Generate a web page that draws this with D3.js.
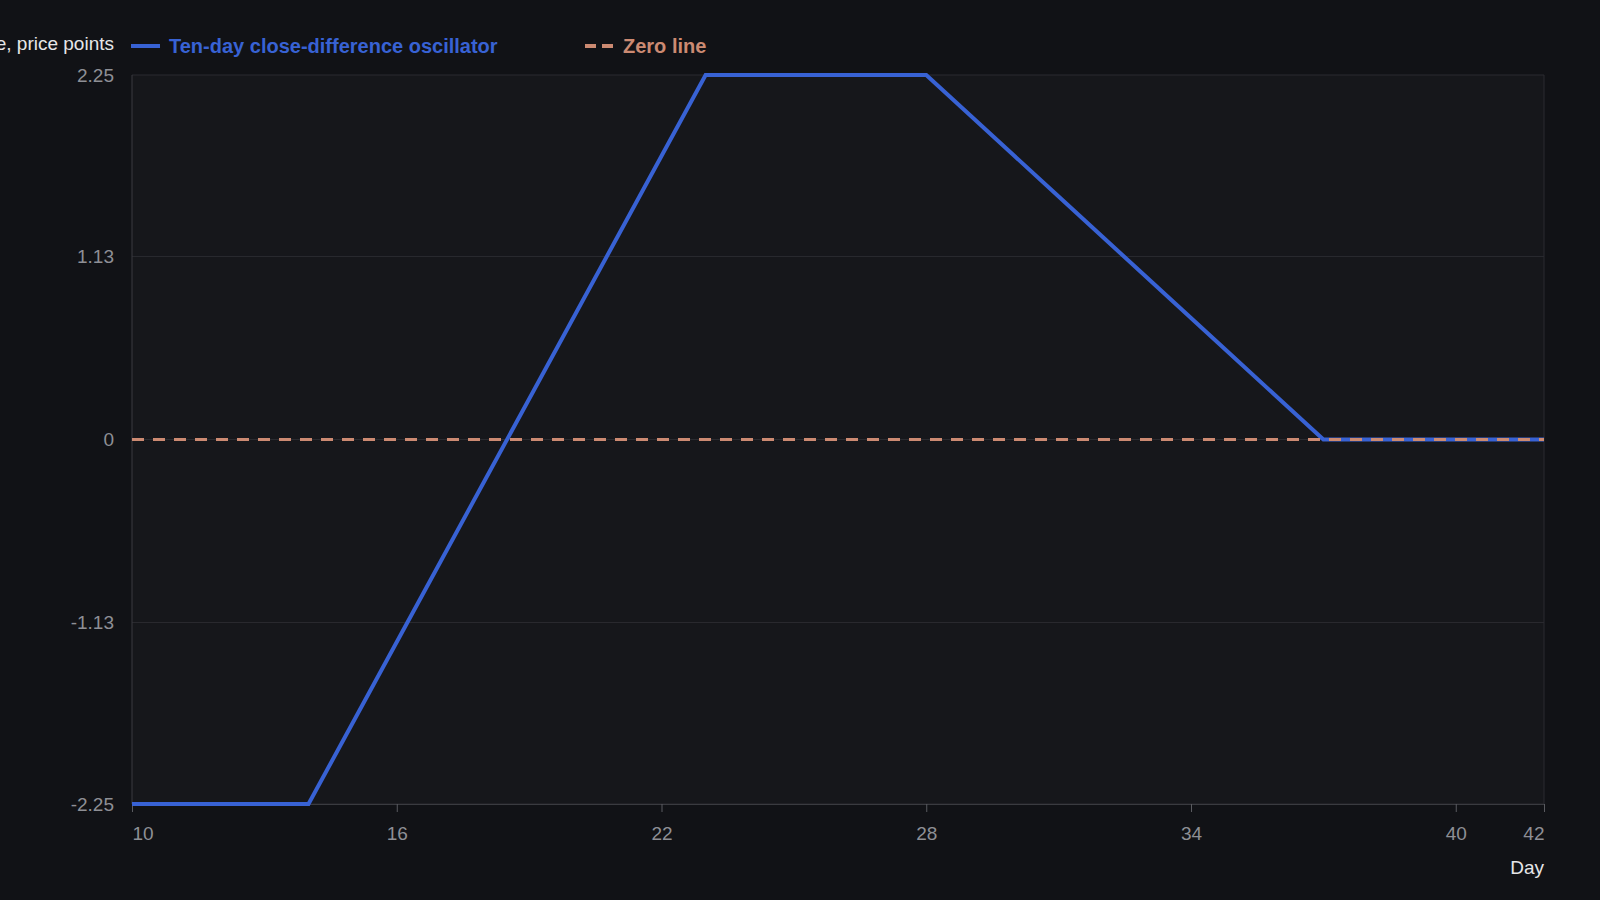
<!DOCTYPE html>
<html>
<head>
<meta charset="utf-8">
<script src="https://cdn.jsdelivr.net/npm/d3@7"></script>
<style>
  html, body { margin: 0; padding: 0; background: #111216; }
  svg { display: block; font-family: "Liberation Sans", Arial, sans-serif; }
</style>
</head>
<body>
<svg id="chart" width="1600" height="900"></svg>
<script>
// Data: one value per day
var days = [10, 11, 12, 13, 14, 15, 16, 17, 18, 19, 20, 21, 22, 23, 24, 25, 26,
            27, 28, 29, 30, 31, 32, 33, 34, 35, 36, 37, 38, 39, 40, 41, 42];
var oscillator = [-2.25, -2.25, -2.25, -2.25, -2.25, -1.75, -1.25, -0.75, -0.25, 0.25, 0.75, 1.25, 1.75, 2.25, 2.25, 2.25, 2.25,
                  2.25, 2.25, 2.0, 1.75, 1.5, 1.25, 1.0, 0.75, 0.5, 0.25, 0, 0, 0, 0, 0, 0];
var zeroLine = [0, 0];
var zeroDays = [10, 42];
var xTicks = [10, 16, 22, 28, 34, 40, 42];
var yTicks = [-2.25, -1.13, 0, 1.13, 2.25];
var seriesNames = ["Ten-day close-difference oscillator", "Zero line"];

var style = {
    left: 132,
    right: 1544,
    top: 75,
    bottom: 804,
    blue: "#3862d4",
    orange: "#cc8a72",
    grid: "#2a2b30",
    axis: "#3a3b40",
    tickText: "#8e8f95",
    plotBg: "#16171b"
};

var svg = d3.select("#chart");

svg.append("rect")
    .attr("width", 1600).attr("height", 900)
    .attr("fill", "#111216");

var x = d3.scaleLinear().domain([10, 42]).range([style.left, style.right]);
var y = d3.scaleLinear().domain([-2.25, 2.25]).range([style.bottom, style.top]);

// plot background
svg.append("rect")
    .attr("x", style.left).attr("y", style.top)
    .attr("width", style.right - style.left)
    .attr("height", style.bottom - style.top)
    .attr("fill", style.plotBg);

// horizontal grid
svg.append("g")
    .selectAll("line")
    .data(yTicks)
    .join("line")
    .attr("x1", style.left).attr("x2", style.right)
    .attr("y1", function(d) { return y(d); })
    .attr("y2", function(d) { return y(d); })
    .attr("stroke", style.grid)
    .attr("stroke-width", 1);

// frame sides
svg.append("line")
    .attr("x1", style.left).attr("x2", style.left)
    .attr("y1", style.top).attr("y2", style.bottom)
    .attr("stroke", style.axis);
svg.append("line")
    .attr("x1", style.right).attr("x2", style.right)
    .attr("y1", style.top).attr("y2", style.bottom)
    .attr("stroke", style.grid);

// y axis labels (plain hyphen for negatives)
var yAxis = svg.append("g")
    .attr("transform", "translate(" + style.left + ",0)")
    .call(d3.axisLeft(y).tickValues(yTicks).tickSize(0).tickPadding(18)
        .tickFormat(function(d) { return d === 0 ? "0" : d.toFixed(2); }));
yAxis.select(".domain").remove();
yAxis.selectAll("text")
    .attr("fill", style.tickText)
    .style("font-size", "19px");

// x axis
var xAxis = svg.append("g")
    .attr("transform", "translate(0," + style.bottom + ")")
    .call(d3.axisBottom(x).tickValues(xTicks).tickSize(8).tickPadding(15));
xAxis.select(".domain").attr("stroke", style.axis);
xAxis.selectAll(".tick line").attr("stroke", "#5a5b60");
xAxis.selectAll("text")
    .attr("fill", style.tickText)
    .style("font-size", "19px")
    .attr("text-anchor", function(d) {
        if (d === 10) return "start";
        if (d === 42) return "end";
        return "middle";
    });

// x axis title
svg.append("text")
    .attr("x", style.right).attr("y", 874)
    .attr("text-anchor", "end")
    .attr("fill", "#e6e6e8")
    .style("font-size", "19px")
    .text("Day");

// y axis title, partly off the canvas as in the reference
svg.append("text")
    .attr("x", 114).attr("y", 50)
    .attr("text-anchor", "end")
    .attr("fill", "#e6e6e8")
    .style("font-size", "19px")
    .text("Close difference, price points");

// oscillator line
var line = d3.line()
    .x(function(d) { return x(d[0]); })
    .y(function(d) { return y(d[1]); });

svg.append("path")
    .datum(d3.zip(days, oscillator))
    .attr("d", line)
    .attr("fill", "none")
    .attr("stroke", style.blue)
    .attr("stroke-width", 4)
    .attr("stroke-linejoin", "miter");

// zero line, on top
svg.append("path")
    .datum(d3.zip(zeroDays, zeroLine))
    .attr("d", line)
    .attr("fill", "none")
    .attr("stroke", style.orange)
    .attr("stroke-width", 3)
    .attr("stroke-dasharray", "12,9");

// legend
var legend = svg.append("g");
var legendItems = [
    { name: seriesNames[0], color: style.blue, x: 131, dash: null },
    { name: seriesNames[1], color: style.orange, x: 585, dash: "11,6" }
];
legendItems.forEach(function(item) {
    legend.append("line")
        .attr("x1", item.x).attr("x2", item.x + 29)
        .attr("y1", 46).attr("y2", 46)
        .attr("stroke", item.color)
        .attr("stroke-width", 4)
        .attr("stroke-dasharray", item.dash);
    legend.append("text")
        .attr("x", item.x + 38).attr("y", 53)
        .attr("fill", item.color)
        .style("font-size", "20px")
        .style("font-weight", "bold")
        .text(item.name);
});
</script>
</body>
</html>
